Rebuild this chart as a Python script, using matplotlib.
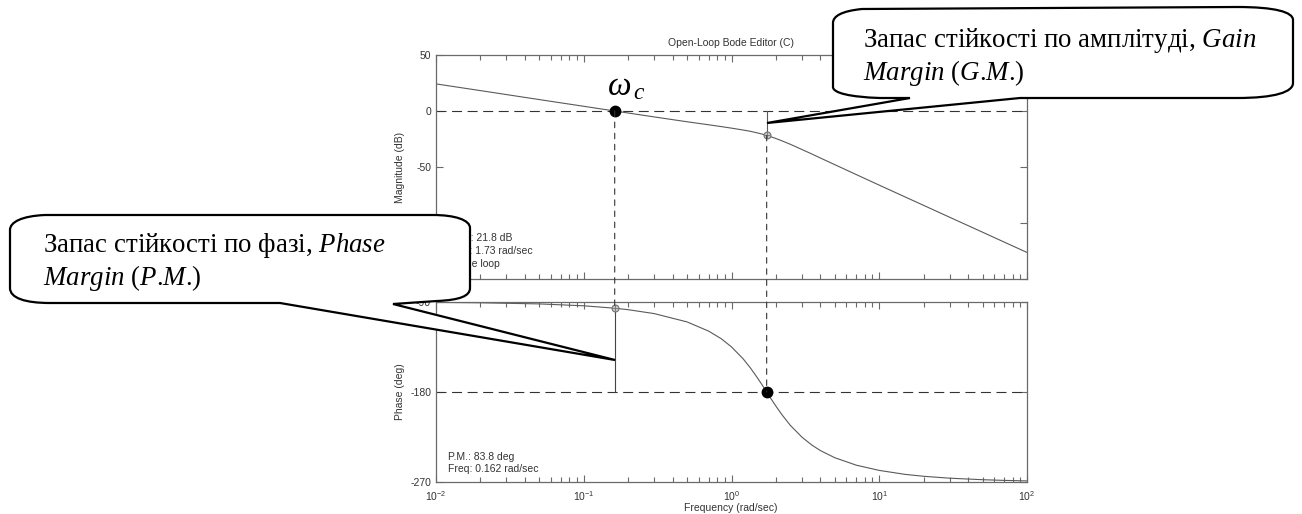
import math

import matplotlib
matplotlib.use("Agg")
import matplotlib.pyplot as plt
from matplotlib.path import Path
from matplotlib.patches import PathPatch, ConnectionPatch
from matplotlib.ticker import FixedLocator, LogLocator, NullFormatter, FuncFormatter

plt.rcParams["axes.unicode_minus"] = False
plt.rcParams["mathtext.fontset"] = "custom"
plt.rcParams["mathtext.rm"] = "Liberation Serif"
plt.rcParams["mathtext.it"] = "Liberation Serif:italic"
plt.rcParams["mathtext.sf"] = "Liberation Sans"

W, H = 1302, 514

# open-loop response
freq = [0.01, 0.02, 0.05, 0.1, 0.162, 0.2, 0.3, 0.5, 0.7, 0.85, 1.0, 1.2, 1.35, 1.5,
        1.6, 1.73, 1.85, 2.0, 2.2, 2.5, 3.0, 3.5, 4.0, 5.0, 7.0, 10, 15, 20, 30, 50, 70, 100]
mag_db = [24.2, 18.2, 10.2, 4.2, 0.0, -1.8, -5.3, -9.6, -12.3, -13.9, -15.3, -17.0, -18.2,
          -19.6, -20.5, -21.8, -23.0, -24.6, -26.7, -29.7, -34.4, -38.4, -42.0, -47.9,
          -56.8, -66.2, -76.8, -84.3, -94.9, -108.2, -117.0, -126.3]
phase_deg = [-90.4, -90.8, -91.9, -93.8, -96.2, -97.7, -101.6, -109.9, -119.1, -126.6,
             -134.9, -146.9, -156.4, -166.0, -172.2, -180.0, -186.7, -194.2, -202.9, -213.3,
             -225.2, -233.1, -238.6, -245.7, -253.2, -258.4, -262.4, -264.3, -266.2, -267.7,
             -268.4, -268.9]

gm_freq, gm_db = 1.73, 21.8
pm_freq, pm_deg = 0.162, 83.8

mag_ticks = [-150, -100, -50, 0, 50]
phase_ticks = [-270, -180, -90]
freq_ticks = [1e-2, 1e-1, 1e0, 1e1, 1e2]

AX = "#6a6a6a"
TXT = "#333333"
CURVE = "#5a5a5a"
DASH = "#333333"
SANS = "Liberation Sans"
SERIF = "Liberation Serif"

fig = plt.figure(figsize=(W / 100, H / 100), dpi=100)
ax_mag = fig.add_axes([436 / W, 1 - 279 / H, 591 / W, 224 / H])
ax_ph = fig.add_axes([436 / W, 1 - 482 / H, 591 / W, 180 / H])


def style(ax, yticks, ylim):
    ax.set_xscale("log")
    ax.set_xlim(1e-2, 1e2)
    ax.set_ylim(*ylim)
    ax.yaxis.set_major_locator(FixedLocator(yticks))
    ax.xaxis.set_major_locator(FixedLocator(freq_ticks))
    ax.xaxis.set_minor_locator(LogLocator(base=10, subs=range(2, 10)))
    ax.xaxis.set_minor_formatter(NullFormatter())
    for s in ax.spines.values():
        s.set_color(AX)
        s.set_linewidth(0.9)
    ax.tick_params(which="both", direction="in", top=True, right=True, color=AX,
                   labelcolor=TXT, labelsize=7.5, width=0.8)
    ax.tick_params(which="major", length=5)
    ax.tick_params(which="minor", length=3.5)
    for lab in ax.get_yticklabels():
        lab.set_fontfamily(SANS)


style(ax_mag, mag_ticks, (-150, 50))
style(ax_ph, phase_ticks, (-270, -90))
ax_mag.xaxis.set_major_formatter(NullFormatter())
ax_ph.xaxis.set_major_formatter(FuncFormatter(
    lambda v, p: r"$\mathsf{10^{%d}}$" % round(math.log10(v))))
ax_ph.tick_params(axis="x", pad=5)

dash_h = (0, (9, 5))
dash_v = (0, (5, 5))

# magnitude
ax_mag.axhline(0, color=DASH, lw=0.8, ls=dash_h)
ax_mag.plot(freq, mag_db, color=CURVE, lw=0.8)
ax_mag.plot([gm_freq, gm_freq], [0, -gm_db], color=CURVE, lw=0.8)
ax_mag.plot(pm_freq, 0, "o", color="black", ms=7.5, zorder=5)
ax_mag.plot(gm_freq, -gm_db, "o", mfc="#c8c8c8", mec="#707070", ms=5, mew=0.8, zorder=5)
ax_mag.plot(gm_freq, -gm_db, "+", color="#707070", ms=4, mew=0.6, zorder=6)

# phase
ax_ph.axhline(-180, color=DASH, lw=0.8, ls=dash_h)
ax_ph.plot(freq, phase_deg, color=CURVE, lw=0.8)
ax_ph.plot([pm_freq, pm_freq], [-180 + pm_deg, -180], color="#444444", lw=0.8)
ax_ph.plot(gm_freq, -180, "o", color="black", ms=7.5, zorder=5)
ax_ph.plot(pm_freq, -180 + pm_deg, "o", mfc="#c8c8c8", mec="#707070", ms=5, mew=0.8, zorder=5)
ax_ph.plot(pm_freq, -180 + pm_deg, "+", color="#707070", ms=4, mew=0.6, zorder=6)

# vertical guides running through both panels
for xa, ya, yb in [(pm_freq, 0, -180 + pm_deg), (gm_freq, -gm_db, -180)]:
    con = ConnectionPatch(xyA=(xa, ya), coordsA=ax_mag.transData,
                          xyB=(xa, yb), coordsB=ax_ph.transData,
                          color=DASH, lw=0.8, ls=dash_v, zorder=3)
    fig.add_artist(con)

# readouts
for i, s in enumerate(["G.M.: %.1f dB" % gm_db, "Freq: %.2f rad/sec" % gm_freq, "Stable loop"]):
    ax_mag.text(0.02, 0.183 - i * 0.058, s, va="center", ha="left",
                transform=ax_mag.transAxes, fontsize=7.5, color=TXT, family=SANS)
for i, s in enumerate(["P.M.: %.1f deg" % pm_deg, "Freq: %.3f rad/sec" % pm_freq]):
    ax_ph.text(0.02, 0.139 - i * 0.067, s, va="center", ha="left",
               transform=ax_ph.transAxes, fontsize=7.5, color=TXT, family=SANS)

fig.text(731 / W, 1 - 43 / H, "Open-Loop Bode Editor (C)", ha="center", va="center",
         fontsize=7.5, color=TXT, family=SANS)
fig.text(400 / W, 1 - 167 / H, "Magnitude (dB)", rotation=90, ha="center", va="center",
         fontsize=7.5, color=TXT, family=SANS)
fig.text(400 / W, 1 - 392 / H, "Phase (deg)", rotation=90, ha="center", va="center",
         fontsize=7.5, color=TXT, family=SANS)
fig.text(731 / W, 1 - 508 / H, "Frequency (rad/sec)", ha="center", va="center",
         fontsize=7.5, color=TXT, family=SANS)

fig.text(607 / W, 1 - 95 / H, r"$\omega_{\,c}$", fontsize=24, color="black", ha="left",
         va="baseline")


def px(x, y):
    return (x / W, 1 - y / H)


def callout(pts):
    verts, codes = [], []
    for kind, p in pts:
        verts.append(px(*p))
        codes.append(kind)
    verts.append(verts[0])
    codes.append(Path.CLOSEPOLY)
    patch = PathPatch(Path(verts, codes), transform=fig.transFigure, facecolor="white",
                      edgecolor="black", lw=1.6, zorder=10)
    fig.add_artist(patch)


M, L, C = Path.MOVETO, Path.LINETO, Path.CURVE4

# gain margin callout
callout([(M, (910, 98)), (L, (767, 123)), (L, (1020, 98)), (L, (1237, 98)),
         (C, (1275, 98)), (C, (1293, 92)), (C, (1293, 83)), (L, (1293, 20)),
         (C, (1293, 12)), (C, (1275, 7)), (C, (1237, 7)), (L, (862, 9)),
         (C, (842, 11)), (C, (833, 16)), (C, (833, 23)), (L, (833, 87)),
         (C, (833, 93)), (C, (850, 97)), (C, (880, 98))])

# phase margin callout
callout([(M, (280, 303)), (L, (615, 360)), (L, (393, 304)), (L, (437, 301)),
         (C, (460, 300)), (C, (470, 296)), (C, (470, 288)), (L, (470, 228)),
         (C, (470, 220)), (C, (455, 215)), (C, (433, 215)), (L, (45, 215)),
         (C, (22, 216)), (C, (10, 222)), (C, (10, 230)), (L, (10, 288)),
         (C, (10, 298)), (C, (25, 303)), (C, (50, 303))])

ckw = dict(fontsize=19.4, color="black", family=SERIF, ha="left", va="baseline", zorder=11)
fig.text(863 / W, 1 - 47 / H, r"Запас стійкості по амплітуді, $\mathit{Gain}$", **ckw)
fig.text(863 / W, 1 - 80 / H, r"$\mathit{Margin}$ ($\mathit{G}$.$\mathit{M}$.)", **ckw)
fig.text(43 / W, 1 - 252 / H, r"Запас стійкості по фазі, $\mathit{Phase}$", **ckw)
fig.text(43 / W, 1 - 285 / H, r"$\mathit{Margin}$ ($\mathit{P}$.$\mathit{M}$.)", **ckw)

fig.savefig("out.png", dpi=100)
